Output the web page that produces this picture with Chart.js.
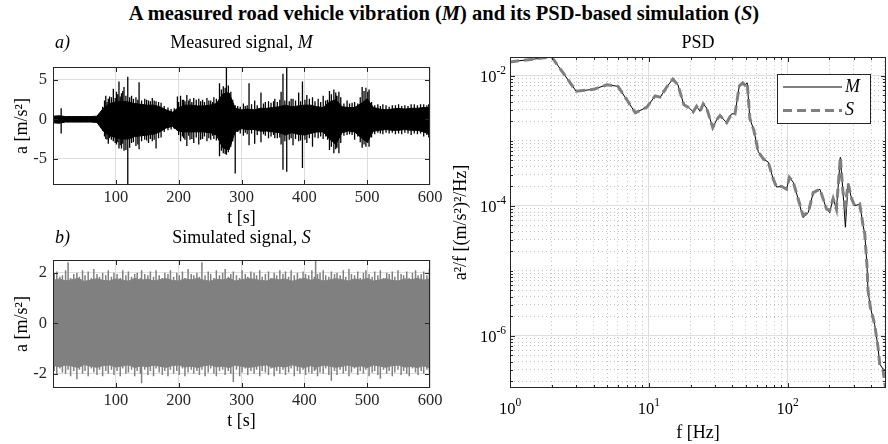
<!DOCTYPE html>
<html>
<head>
<meta charset="utf-8">
<script src="https://cdn.jsdelivr.net/npm/chart.js@4.4.0/dist/chart.umd.min.js"></script>
<style>
  html, body { margin: 0; padding: 0; background: #fff; }
  #page { position: relative; width: 888px; height: 444px; overflow: hidden; }
  #mainTitle { position: absolute; left: 0; top: 2px; width: 888px; text-align: center; line-height: 24px;
    font: bold 20.5px 'Liberation Serif', 'Times New Roman', serif; color: #000; }
  canvas { position: absolute; }
</style>
</head>
<body>
<div id="page">
  <div id="mainTitle">A measured road vehicle vibration (<i>M</i>) and its PSD-based simulation (<i>S</i>)</div>
  <canvas id="measuredChart" width="470" height="200" style="left:0;top:30px"></canvas>
  <canvas id="simulatedChart" width="470" height="219" style="left:0;top:225px"></canvas>
  <canvas id="psdChart" width="448" height="419" style="left:440px;top:25px"></canvas>
</div>
<script>
// ---- time signals: envelope every 10 s ----
const timeBins = [0,10,20,30,40,50,60,70,80,90,100,110,120,130,140,150,160,170,180,190,200,210,220,230,240,250,260,270,280,290,300,
  310,320,330,340,350,360,370,380,390,400,410,420,430,440,450,460,470,480,490,500,510,520,530,540,550,560,570,580,590,600];

const measuredUpper = [0.4,0.45,0.35,0.35,0.35,0.35,0.35,0.4,1.4,2.0,2.2,2.3,2.2,2.0,1.9,1.8,1.8,1.6,1.2,0.9,1.5,1.8,1.8,1.7,1.7,1.8,2.0,3.2,3.4,1.4,1.2,
  1.3,1.2,1.4,1.4,1.5,1.6,1.8,1.6,1.7,1.8,1.8,1.6,1.5,2.2,2.5,1.6,1.5,1.5,2.0,2.6,1.5,1.3,1.2,1.3,1.4,1.3,1.4,1.4,1.5,1.5];
const measuredLower = [-0.45,-0.5,-0.35,-0.35,-0.35,-0.35,-0.35,-0.4,-1.5,-2.1,-2.3,-2.5,-2.5,-2.2,-2.1,-2.0,-1.9,-1.6,-1.1,-0.9,-1.5,-1.6,-1.6,-1.6,-1.6,-1.7,-2.0,-3.6,-3.9,-1.6,-1.2,
  -1.3,-1.3,-1.5,-1.5,-1.6,-1.7,-2.0,-1.7,-1.9,-2.0,-1.8,-1.6,-1.6,-2.5,-3.2,-1.7,-1.5,-1.6,-2.3,-2.9,-1.5,-1.4,-1.3,-1.4,-1.4,-1.3,-1.4,-1.4,-1.6,-1.9];

// isolated peaks of the measured signal
const measuredSpikeTime = [13,84,88,93,96,101,105,109,113,119,125,132,137,146,152,158,164,198,203,208,213,218,224,232,238,245,251,256,265,276,
  283,290,303,312,321,331,343,353,363,366,372,382,391,397,404,413,422,430,440,447,455,468,480,492,498,503,525,545,570,590,598];
const measuredSpikeHigh = [1.4,3.0,2.6,2.8,3.9,3.5,4.8,3.3,4.1,5.4,3.0,2.8,4.7,2.6,2.4,2.7,2.3,2.9,3.0,2.5,3.1,2.6,2.7,2.6,2.5,2.7,2.4,2.8,4.6,6.8,
  3.5,1.8,2.0,4.6,2.4,3.4,2.3,2.6,3.5,5.8,7.8,2.6,3.4,4.8,3.1,2.8,2.6,3.0,3.6,3.8,3.5,2.4,2.2,4.1,4.0,3.8,1.9,1.8,1.9,1.9,1.9];
const measuredSpikeLow = [-1.8,-2.5,-3.1,-2.6,-2.8,-3.2,-3.7,-3.7,-4.0,-8.4,-3.0,-3.4,-3.8,-2.6,-3.0,-2.8,-3.7,-1.5,-2.8,-2.4,-3.4,-2.6,-3.0,-3.2,-2.5,-2.8,-2.6,-2.5,-4.7,-4.5,
  -3.5,-6.9,-2.1,-3.3,-3.1,-2.9,-2.4,-2.4,-3.2,-6.4,-6.65,-3.3,-2.8,-6.2,-3.0,-3.5,-2.4,-2.5,-3.9,-4.3,-4.3,-2.0,-2.6,-3.6,-3.5,-3.5,-1.9,-1.9,-2.0,-2.2,-2.3];

// smaller excursions that make up the ragged edge of the measured band
const measuredFineTime = [79,82,86,90,99,103,107,111,116,122,128,135,141,149,155,161,168,172,177,183,188,193,
  200,206,210,216,221,228,235,241,248,254,260,268,271,274,279,286,294,298,306,309,316,325,335,338,
  347,351,357,361,369,376,379,386,394,401,408,417,426,434,437,443,450,452,458,
  463,472,476,485,489,495,501,507,512,517,521,530,535,540,550,555,560,565,575,580,585,595];
const measuredFineHigh = [1.6,2.4,2.2,2.9,2.7,3.2,2.9,3.6,3.0,2.8,2.6,2.5,2.4,2.5,2.3,2.4,2.2,2.1,1.7,1.5,1.3,1.4,
  2.2,2.5,2.3,2.4,2.2,2.5,2.3,2.2,2.4,2.2,2.6,3.8,4.2,4.0,4.3,2.5,1.7,1.6,1.7,1.8,1.9,1.8,2.0,2.2,
  2.1,2.3,2.2,2.5,2.4,2.3,2.6,2.4,2.3,2.5,2.6,2.3,2.2,2.4,2.5,3.2,3.4,3.0,2.8,
  2.0,2.0,2.1,2.0,2.8,3.6,3.5,2.2,1.8,1.9,1.7,1.8,1.6,1.8,1.9,1.7,1.8,1.7,1.9,1.8,1.9,1.8];
const measuredFineLow = [-1.5,-2.2,-2.6,-2.4,-3.0,-2.9,-3.3,-3.1,-3.9,-3.6,-2.9,-3.2,-2.8,-2.7,-2.5,-2.6,-2.4,-2.3,-1.6,-1.4,-1.3,-1.2,
  -2.0,-2.2,-2.6,-2.1,-2.5,-2.3,-2.6,-2.2,-2.4,-2.1,-2.7,-4.0,-4.3,-4.4,-4.2,-2.8,-1.6,-1.8,-1.7,-1.9,-1.8,-2.0,-1.9,-2.1,
  -2.2,-2.0,-2.4,-2.3,-2.8,-2.6,-2.4,-2.5,-2.7,-2.6,-2.4,-2.3,-2.2,-2.2,-2.6,-3.5,-3.8,-3.6,-3.0,
  -2.1,-1.9,-2.0,-2.2,-2.9,-3.2,-3.0,-2.3,-1.9,-1.7,-1.8,-1.7,-1.8,-1.7,-1.8,-1.9,-1.7,-1.8,-1.8,-1.9,-1.8,-2.0];

const simulatedUpper = [1.7,1.76,1.68,1.73,1.78,1.66,1.72,1.77,1.7,1.68,1.76,1.72,1.67,1.78,1.71,1.75,1.68,1.73,1.77,1.7,1.68,1.76,1.72,1.78,1.71,1.67,1.75,1.72,1.78,1.68,1.73,
  1.77,1.75,1.7,1.68,1.77,1.72,1.76,1.67,1.73,1.78,1.71,1.76,1.68,1.72,1.77,1.73,1.68,1.76,1.71,1.78,1.68,1.72,1.77,1.7,1.68,1.76,1.73,1.78,1.71,1.76];
const simulatedLower = [-1.68,-1.73,-1.66,-1.7,-1.76,-1.64,-1.71,-1.75,-1.68,-1.66,-1.74,-1.7,-1.65,-1.76,-1.69,-1.73,-1.66,-1.71,-1.75,-1.68,-1.66,-1.74,-1.7,-1.76,-1.69,-1.65,-1.73,-1.7,-1.76,-1.66,-1.71,
  -1.75,-1.73,-1.68,-1.66,-1.75,-1.7,-1.74,-1.65,-1.71,-1.76,-1.69,-1.74,-1.66,-1.7,-1.75,-1.71,-1.66,-1.74,-1.69,-1.76,-1.66,-1.7,-1.75,-1.68,-1.66,-1.74,-1.71,-1.76,-1.69,-1.78];

// individual excursions of the simulated signal (ragged band edge)
const simulatedSpikeTime = [2,6,11,15,20,24,28,33,38,42, 47,51,56,61,65,70,74,79,84,88, 93,97,102,107,111,116,120,125,130,134,
  139,141,146,151,155,160,164,169,174,178, 183,187,192,197,201,206,210,215,220,224, 229,233,237,242,247,251,256,260,265,270,
  274,279,283,287,292,297,301,306,310,315, 320,324,329,333,338,343,347,352,356,361, 366,370,375,379,384,389,393,398,402,407,
  412,416,418,421,425,430,434,439,443,448, 452,457,462,466,471,475,480,485,489,494, 498,503,508,512,517,521,526,531,535,540,
  544,549,554,558,563,567,572,577,581,586, 590,595,599];
const simulatedSpikeHigh = [1.95,2.05,1.85,1.9,2.1,2.42,1.8,1.95,2.0,1.85, 2.1,1.9,2.05,1.8,2.15,1.95,1.85,2.0,1.9,2.1, 1.85,2.0,1.95,1.8,2.1,1.9,2.05,1.85,1.95,2.0,
  1.8,2.1,1.95,1.9,2.05,1.85,2.1,1.9,1.8,2.0, 1.95,2.1,1.85,2.0,1.9,2.05,1.8,2.15,1.95,1.9, 2.0,1.85,2.42,1.9,2.05,1.95,1.8,2.1,1.9,2.0,
  2.15,1.85,1.95,2.05,1.9,1.8,2.1,1.95,1.85,2.05, 2.0,1.9,2.1,1.85,1.95,2.05,1.8,2.0,1.9,2.1, 1.95,2.05,1.85,2.1,1.9,2.0,1.8,2.05,1.95,1.9,
  2.1,1.85,2.47,1.95,2.0,2.1,1.9,1.85,2.05,1.95, 2.0,1.9,2.1,1.85,2.15,1.95,1.9,2.05,1.8,2.0, 2.1,1.95,1.85,2.05,1.9,2.1,1.8,2.0,1.95,2.05,
  1.85,2.1,1.95,1.9,2.05,1.8,2.0,2.1,1.9,1.95, 2.05,1.9,2.15];
const simulatedSpikeLow = [-1.9,-2.05,-1.8,-1.95,-2.0,-1.85,-2.1,-1.9,-2.22,-1.85, -2.0,-1.9,-2.1,-1.8,-1.95,-2.05,-1.85,-2.1,-1.9,-2.0, -1.85,-2.05,-1.9,-2.1,-1.8,-2.0,-1.95,-1.85,-2.1,-1.9,
  -2.0,-2.38,-1.85,-2.05,-1.9,-2.1,-1.8,-1.95,-2.05,-1.9, -2.1,-1.85,-2.0,-1.9,-2.05,-1.8,-2.1,-1.95,-1.85,-2.0, -1.9,-2.05,-1.85,-2.1,-1.95,-1.8,-2.0,-2.1,-1.9,-1.85,
  -2.05,-1.9,-2.0,-2.33,-1.85,-2.1,-1.95,-1.8,-2.05,-1.9, -2.0,-1.85,-2.1,-1.9,-1.95,-2.05,-1.8,-2.1,-1.9,-2.0, -1.85,-2.05,-1.95,-1.8,-2.1,-1.9,-2.0,-1.85,-2.05,-1.95,
  -2.0,-1.9,-1.85,-2.1,-1.95,-2.0,-1.8,-2.05,-2.28,-1.9, -2.05,-1.85,-2.0,-1.9,-2.1,-1.95,-1.8,-2.05,-1.9,-2.0, -1.85,-2.1,-1.95,-1.9,-2.05,-2.2,-1.85,-2.0,-1.9,-2.1,
  -1.95,-1.85,-2.05,-1.9,-2.0,-2.1,-1.8,-1.95,-2.05,-1.9, -2.0,-1.85,-1.95];

// ---- PSD ----
const psdFreq = [1,2,3,4,5,6,8,9.7,11.1,12.1,13.5,14.9,16.2,17.9,19.6,20.9,22.1,23.4,24.7,26.1,28.9,30.8,32.6,36.4,39.5,41.8,44.9,47.5,49.3,51.2,
  53.5,57.2,61.5,66.9,72.6,78.8,83.3,90.5,98.4,103,110,119,129,141,153,171,191,201,213,225,240,251,261,273,289,305,331,350,360,374,380,395,424,449,461,487,512];
const psdMeasured = [1.64e-2,1.95e-2,5.8e-3,6.2e-3,7.3e-3,6.9e-3,2.7e-3,3.3e-3,4.9e-3,4.7e-3,6.8e-3,8.9e-3,7.3e-3,3.6e-3,3.2e-3,2.8e-3,3.4e-3,2.85e-3,3.7e-3,3.2e-3,
  1.6e-3,2.1e-3,2.45e-3,1.9e-3,2.6e-3,2.6e-3,7.0e-3,7.8e-3,7.2e-3,7.8e-3,2.2e-3,1.45e-3,6.8e-4,5.3e-4,4.7e-4,2.6e-4,1.95e-4,2.0e-4,1.8e-4,2.75e-4,2.3e-4,1.3e-4,
  6.6e-5,7.9e-5,1.6e-4,1.8e-4,8.9e-5,7.9e-5,1.3e-4,8.9e-5,5.6e-4,1.6e-4,4.7e-5,2.2e-4,1.3e-4,1.0e-4,1.07e-4,5.0e-5,3.7e-5,1.15e-5,5.0e-6,2.75e-6,1.5e-6,6.6e-7,3.7e-7,3.1e-7,2.9e-7];
const psdSimulated = [1.64e-2,1.95e-2,5.8e-3,6.2e-3,7.3e-3,6.9e-3,2.7e-3,3.3e-3,4.9e-3,4.7e-3,6.8e-3,8.9e-3,7.3e-3,3.6e-3,3.2e-3,2.8e-3,3.4e-3,2.85e-3,3.7e-3,3.2e-3,
  1.6e-3,2.1e-3,2.45e-3,1.9e-3,2.6e-3,2.6e-3,7.0e-3,7.8e-3,7.2e-3,7.8e-3,2.2e-3,1.45e-3,6.8e-4,5.3e-4,4.7e-4,2.6e-4,1.95e-4,2.0e-4,1.8e-4,2.75e-4,2.3e-4,1.3e-4,
  7.2e-5,7.9e-5,1.6e-4,1.8e-4,8.9e-5,8.5e-5,1.3e-4,8.9e-5,5.6e-4,1.6e-4,1.0e-4,2.2e-4,1.3e-4,1.0e-4,1.07e-4,5.0e-5,3.7e-5,1.15e-5,5.0e-6,2.75e-6,1.5e-6,6.6e-7,3.7e-7,3.0e-7,1.4e-7];

// ---- tick labels ----
const timeTicks = [100,200,300,400,500,600];
const measuredTicks = [-5,0,5];
const simulatedTicks = [-2,0,2];
const psdFreqTicks = [1,10,100];
const psdValueTicks = [1e-6,1e-4,1e-2];

const FONT = "'Liberation Serif', 'Times New Roman', serif";
const INK = '#262626';
const GRID = '#dedede';
const SIM_GRAY = '#808080';
const TICK_SIZE = 16.5;
const LABEL_SIZE = 18;
Chart.defaults.font.family = FONT;
Chart.defaults.color = INK;

function drawRich(ctx, parts, x, y, size, align) {
  const widths = parts.map(p => {
    ctx.font = (p.italic ? 'italic ' : '') + size + 'px ' + FONT;
    return ctx.measureText(p.text).width;
  });
  const total = widths.reduce((a, b) => a + b, 0);
  let cx = align === 'center' ? x - total / 2 : (align === 'right' ? x - total : x);
  ctx.textAlign = 'left';
  ctx.textBaseline = 'middle';
  parts.forEach((p, i) => {
    ctx.font = (p.italic ? 'italic ' : '') + size + 'px ' + FONT;
    ctx.fillText(p.text, cx, y);
    cx += widths[i];
  });
}

// "10" with a raised exponent, like MATLAB log tick labels
function drawPower(ctx, value, x, y, align) {
  const exp = String(Math.round(Math.log10(value)));
  ctx.font = TICK_SIZE + 'px ' + FONT;
  const wBase = ctx.measureText('10').width;
  ctx.font = '11.5px ' + FONT;
  const wExp = ctx.measureText(exp).width;
  const total = wBase + wExp;
  const left = align === 'center' ? x - total / 2 : x - total;
  ctx.textAlign = 'left';
  ctx.textBaseline = 'middle';
  ctx.font = TICK_SIZE + 'px ' + FONT;
  ctx.fillText('10', left, y);
  ctx.font = '11.5px ' + FONT;
  ctx.fillText(exp, left + wBase, y - 7);
}

function isMajor(v, list) {
  return list.some(m => Math.abs(Math.log10(v) - Math.log10(m)) < 1e-6);
}

const frame = {
  id: 'frame',
  afterDraw(chart, args, opts) {
    const { ctx, chartArea: a } = chart;
    const xs = chart.scales.x, ys = chart.scales.y;
    ctx.save();
    ctx.strokeStyle = INK;
    ctx.lineWidth = 1;
    ctx.beginPath();
    xs.ticks.forEach(t => {
      const len = opts.xMajor ? (isMajor(t.value, opts.xMajor) ? 5 : 3) : 5;
      const px = Math.round(xs.getPixelForValue(t.value)) + 0.5;
      if (px < a.left + 1 || px > a.right - 1) return;
      ctx.moveTo(px, a.bottom); ctx.lineTo(px, a.bottom - len);
      ctx.moveTo(px, a.top); ctx.lineTo(px, a.top + len);
    });
    ys.ticks.forEach(t => {
      const len = opts.yMajor ? (isMajor(t.value, opts.yMajor) ? 5 : 3) : 5;
      const py = Math.round(ys.getPixelForValue(t.value)) + 0.5;
      if (py < a.top + 1 || py > a.bottom - 1) return;
      ctx.moveTo(a.left, py); ctx.lineTo(a.left + len, py);
      ctx.moveTo(a.right, py); ctx.lineTo(a.right - len, py);
    });
    ctx.stroke();
    ctx.strokeRect(Math.round(a.left) + 0.5, Math.round(a.top) + 0.5, Math.round(a.width) - 1, Math.round(a.height) - 1);

    ctx.fillStyle = '#000';
    const cx = (a.left + a.right) / 2;
    drawRich(ctx, opts.title, cx, a.top - opts.titleGap, LABEL_SIZE, 'center');
    if (opts.tag) drawRich(ctx, [{ text: opts.tag, italic: true }], a.left + 2, a.top - opts.titleGap, LABEL_SIZE, 'left');
    drawRich(ctx, [{ text: opts.xLabel }], cx, a.bottom + opts.xLabelGap, LABEL_SIZE, 'center');
    ctx.save();
    ctx.translate(a.left - opts.yLabelGap, (a.top + a.bottom) / 2);
    ctx.rotate(-Math.PI / 2);
    drawRich(ctx, [{ text: opts.yLabel }], 0, 0, LABEL_SIZE, 'center');
    ctx.restore();

    if (opts.powerLabels) {
      psdFreqTicks.forEach(v => drawPower(ctx, v, xs.getPixelForValue(v), a.bottom + 22, 'center'));
      psdValueTicks.forEach(v => drawPower(ctx, v, a.left - 4, ys.getPixelForValue(v) + 2, 'right'));
    }

    if (opts.legend) {
      const bx = a.right - 109, by = a.top + 17, bw = 93, bh = 49;
      ctx.fillStyle = '#fff';
      ctx.fillRect(bx, by, bw, bh);
      ctx.strokeStyle = INK;
      ctx.lineWidth = 1;
      ctx.strokeRect(bx + 0.5, by + 0.5, bw, bh);
      const items = [chart.data.datasets[1], chart.data.datasets[0]];
      items.forEach((ds, i) => {
        const ly = by + 13 + i * 23.5;
        ctx.save();
        ctx.strokeStyle = ds.borderColor;
        ctx.lineWidth = ds.borderWidth;
        ctx.setLineDash(ds.borderDash || []);
        ctx.beginPath();
        ctx.moveTo(bx + 6, ly); ctx.lineTo(bx + 65, ly);
        ctx.stroke();
        ctx.restore();
        ctx.fillStyle = '#000';
        drawRich(ctx, [{ text: ds.label, italic: true }], bx + 68, ly, LABEL_SIZE, 'left');
      });
    }
    ctx.restore();
  }
};

function linearGrid() {
  return { color: GRID, lineWidth: 1, drawTicks: false };
}

function envelopeDatasets(upper, lower, color) {
  return [
    { data: timeBins.map((t, i) => ({ x: t, y: upper[i] })), borderColor: color, borderWidth: 1, fill: false },
    { data: timeBins.map((t, i) => ({ x: t, y: lower[i] })), borderColor: color, borderWidth: 1, fill: '-1', backgroundColor: color }
  ];
}

function spikeData(times, lows, highs) {
  const out = [];
  times.forEach((t, i) => {
    out.push({ x: t, y: lows[i] }, { x: t, y: highs[i] }, { x: t, y: null });
  });
  return out;
}

function spikeDataset(times, lows, highs, color, width) {
  return { data: spikeData(times, lows, highs), borderColor: color, borderWidth: width, fill: false, spanGaps: false };
}

function signalOptions(yMin, yMax, yTicks, plugOpts) {
  return {
    responsive: false,
    animation: false,
    layout: { padding: { left: 0, right: 40, top: plugOpts.top, bottom: 0 } },
    elements: { point: { radius: 0 }, line: { tension: 0 } },
    plugins: { legend: { display: false }, tooltip: { enabled: false }, frame: plugOpts },
    scales: {
      x: {
        type: 'linear', min: 0, max: 600, offset: false,
        afterBuildTicks: s => { s.ticks = timeTicks.map(v => ({ value: v })); },
        afterFit: s => { s.height = plugOpts.xHeight; },
        grid: linearGrid(),
        border: { display: false },
        ticks: { font: { size: TICK_SIZE }, color: INK, padding: 3, maxRotation: 0, callback: v => String(v) }
      },
      y: {
        type: 'linear', min: yMin, max: yMax,
        afterBuildTicks: s => { s.ticks = yTicks.map(v => ({ value: v })); },
        afterFit: s => { s.width = 53; },
        grid: linearGrid(),
        border: { display: false },
        ticks: { font: { size: TICK_SIZE }, color: INK, padding: 6, callback: v => String(v) }
      }
    }
  };
}

new Chart(document.getElementById('measuredChart'), {
  type: 'line',
  data: {
    datasets: [
      ...envelopeDatasets(measuredUpper, measuredLower, '#000'),
      spikeDataset(measuredFineTime, measuredFineLow, measuredFineHigh, '#000', 1.3),
      spikeDataset(measuredSpikeTime, measuredSpikeLow, measuredSpikeHigh, '#000', 1.3)
    ]
  },
  options: signalOptions(-8.35, 6.65, measuredTicks, {
    top: 37, xHeight: 45, titleGap: 24, xLabelGap: 33, yLabelGap: 31,
    title: [{ text: 'Measured signal, ' }, { text: 'M', italic: true }], tag: 'a)',
    xLabel: 't [s]', yLabel: 'a [m/s²]'
  }),
  plugins: [frame]
});

new Chart(document.getElementById('simulatedChart'), {
  type: 'line',
  data: {
    datasets: [
      ...envelopeDatasets(simulatedUpper, simulatedLower, SIM_GRAY),
      spikeDataset(simulatedSpikeTime, simulatedSpikeLow, simulatedSpikeHigh, SIM_GRAY, 1.5)
    ]
  },
  options: signalOptions(-2.57, 2.51, simulatedTicks, {
    top: 35, xHeight: 56, titleGap: 22, xLabelGap: 33, yLabelGap: 31,
    title: [{ text: 'Simulated signal, ' }, { text: 'S', italic: true }], tag: 'b)',
    xLabel: 't [s]', yLabel: 'a [m/s²]'
  }),
  plugins: [frame]
});

// grid positions 1..9 x 10^n inside the axis range
function logGrid(min, max) {
  const out = [];
  for (let e = Math.floor(Math.log10(min)); e <= Math.ceil(Math.log10(max)); e++) {
    for (let k = 1; k <= 9; k++) {
      const v = k * Math.pow(10, e);
      if (v >= min * 0.999 && v <= max * 1.001) out.push({ value: v });
    }
  }
  return out;
}

function logGridStyle(list) {
  return {
    color: c => isMajor(c.tick.value, list) ? GRID : '#c4c4c4',
    lineWidth: 1,
    drawTicks: false
  };
}

const psdXMin = 1, psdXMax = 512, psdYMin = 1.58e-7, psdYMax = 1.95e-2;

new Chart(document.getElementById('psdChart'), {
  type: 'line',
  data: {
    datasets: [
      { label: 'S', data: psdFreq.map((f, i) => ({ x: f, y: psdSimulated[i] })), borderColor: SIM_GRAY, borderWidth: 3, borderDash: [9, 5], fill: false, order: 0 },
      { label: 'M', data: psdFreq.map((f, i) => ({ x: f, y: psdMeasured[i] })), borderColor: '#000', borderWidth: 1, fill: false, order: 1 }
    ]
  },
  options: {
    responsive: false,
    animation: false,
    layout: { padding: { left: 0, right: 2, top: 32, bottom: 0 } },
    elements: { point: { radius: 0 }, line: { tension: 0 } },
    plugins: {
      legend: { display: false }, tooltip: { enabled: false },
      frame: {
        titleGap: 14, xLabelGap: 45, yLabelGap: 49,
        title: [{ text: 'PSD' }], xLabel: 'f [Hz]', yLabel: 'a²/f [(m/s²)²/Hz]',
        xMajor: psdFreqTicks, yMajor: psdValueTicks, powerLabels: true, legend: true
      }
    },
    scales: {
      x: {
        type: 'logarithmic', min: psdXMin, max: psdXMax,
        afterBuildTicks: s => { s.ticks = logGrid(psdXMin, psdXMax); },
        afterFit: s => { s.height = 56; },
        grid: logGridStyle(psdFreqTicks),
        border: { display: false, dash: c => isMajor(c.tick.value, psdFreqTicks) ? [] : [1, 3] },
        ticks: { display: false }
      },
      y: {
        type: 'logarithmic', min: psdYMin, max: psdYMax,
        afterBuildTicks: s => { s.ticks = logGrid(psdYMin, psdYMax); },
        afterFit: s => { s.width = 70; },
        grid: logGridStyle(psdValueTicks),
        border: { display: false, dash: c => isMajor(c.tick.value, psdValueTicks) ? [] : [1, 3] },
        ticks: { display: false }
      }
    }
  },
  plugins: [frame]
});
</script>
</body>
</html>
